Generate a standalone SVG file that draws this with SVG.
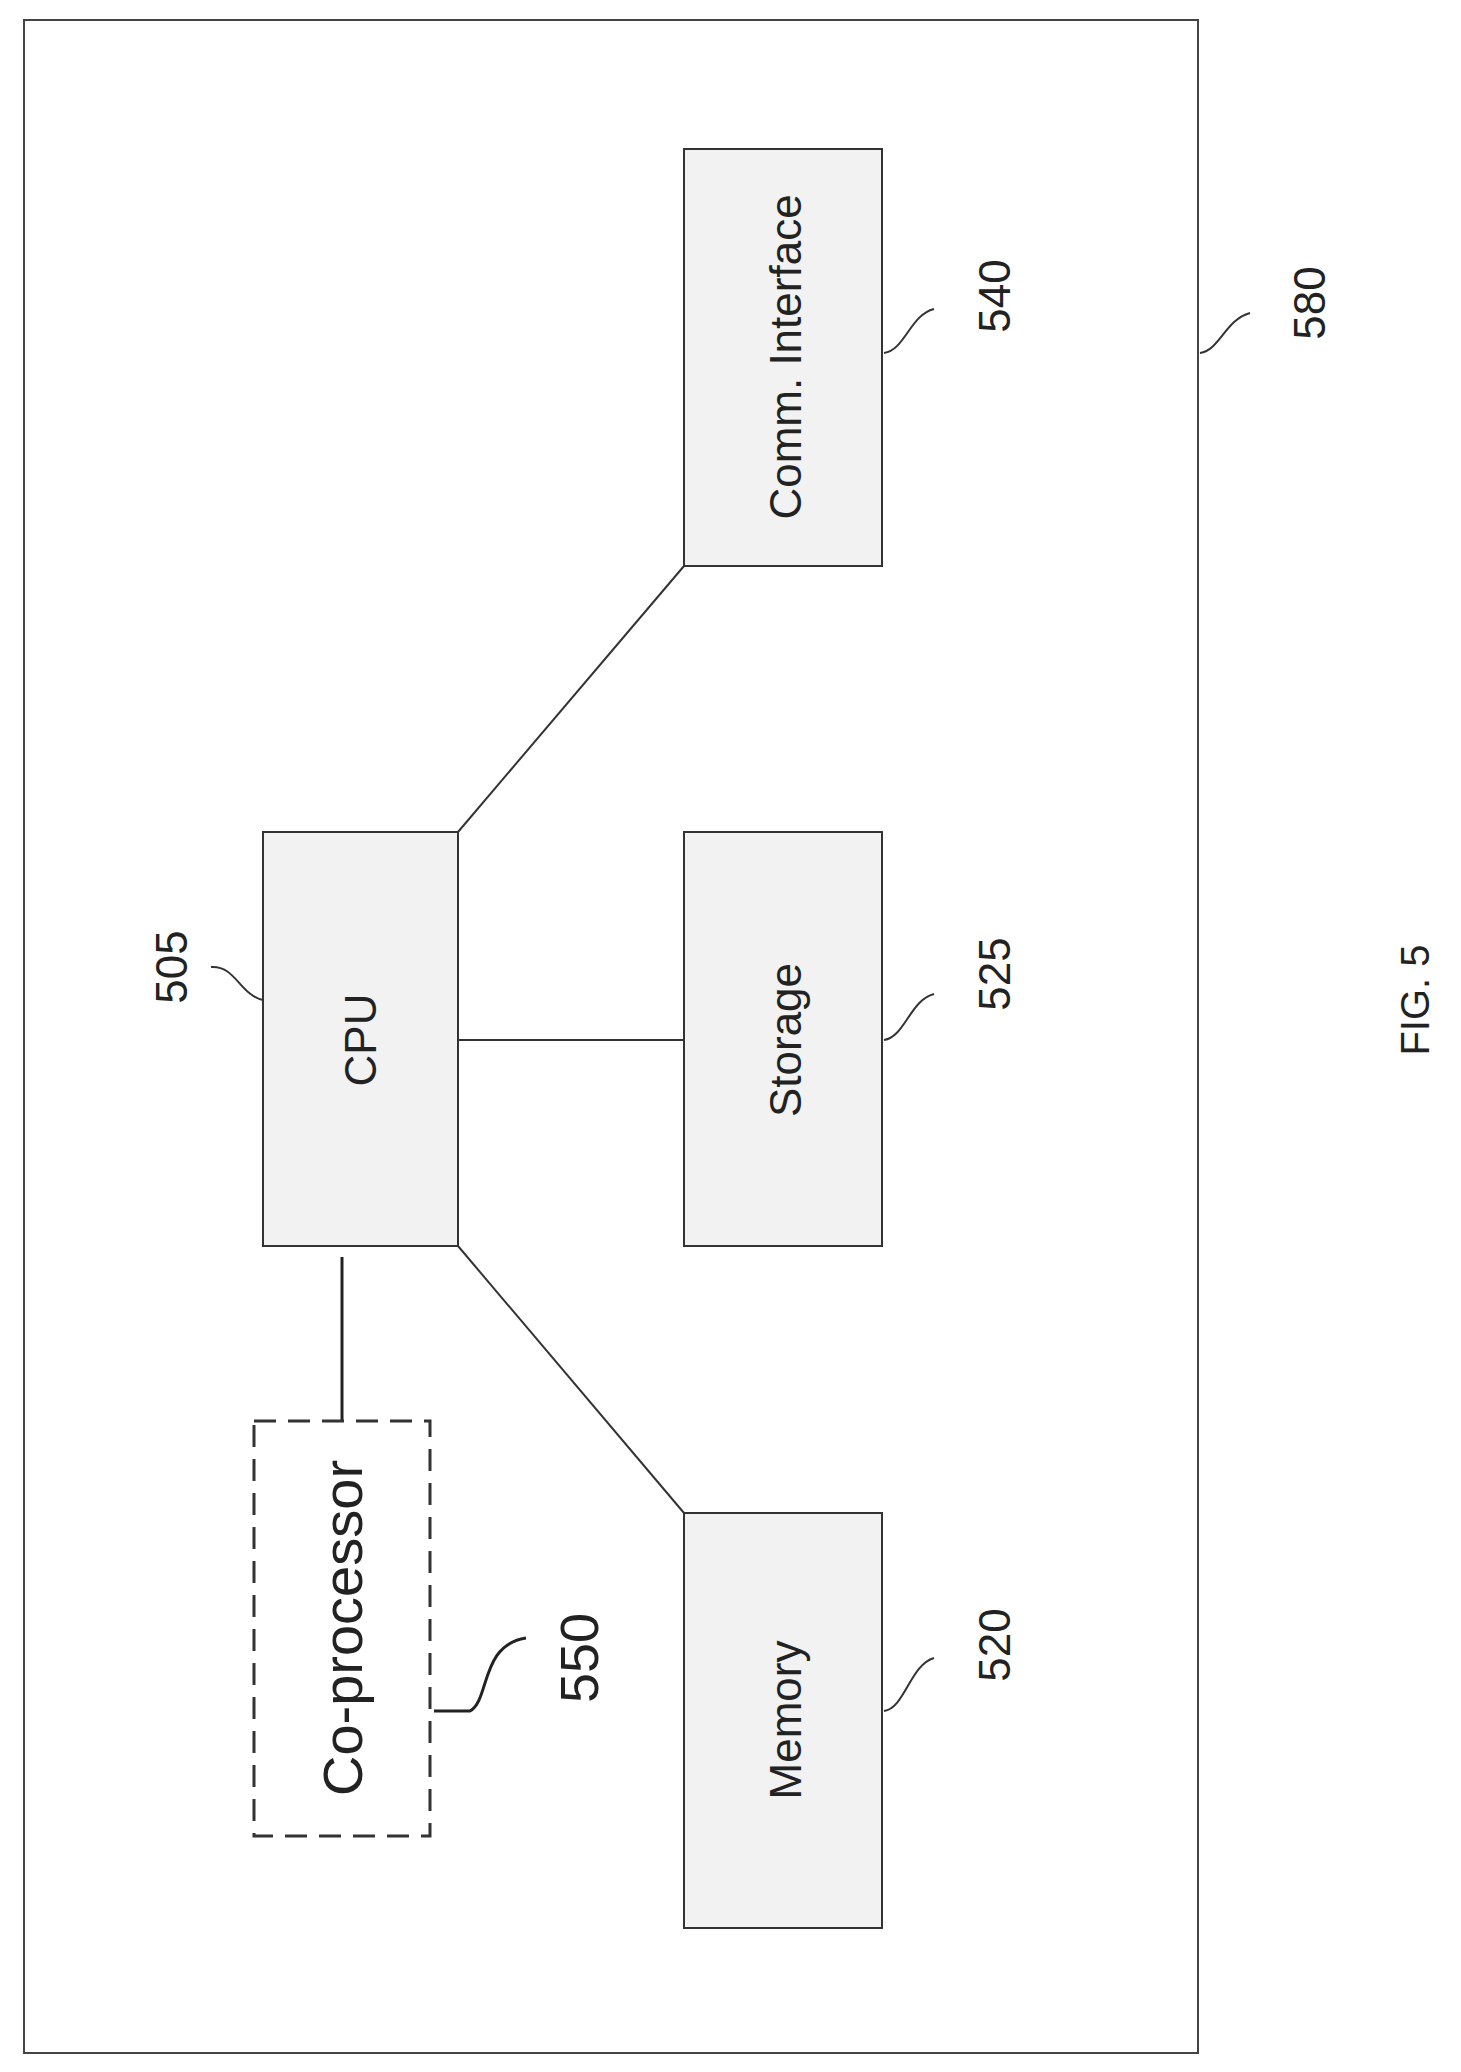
<svg xmlns="http://www.w3.org/2000/svg" width="1461" height="2072" viewBox="0 0 1461 2072">
<style>
.b{fill:#f2f2f2;stroke:#333;stroke-width:2}
.t{font-family:"Liberation Sans",Arial,sans-serif;font-size:44px;fill:#222;text-anchor:middle;dominant-baseline:central}
.n{font-family:"Liberation Sans",Arial,sans-serif;font-size:44px;fill:#222;text-anchor:middle;dominant-baseline:central}
.l{fill:none;stroke:#333;stroke-width:2}
</style>
<rect width="1461" height="2072" fill="#fff"/>
<g id="system"><rect x="24" y="20" width="1174" height="2033" fill="none" stroke="#444" stroke-width="2"/>
<path class="l" d="M1200,353 C1220,350 1225,320 1250,313"/>
<text class="n" transform="translate(1309,303) rotate(-90)">580</text></g>
<g id="connectors">
<line class="l" x1="458" y1="832" x2="684" y2="566"/>
<line class="l" x1="458" y1="1040" x2="684" y2="1040"/>
<line class="l" x1="458" y1="1246" x2="684" y2="1513"/>
<line x1="342" y1="1257" x2="342" y2="1421" stroke="#222" stroke-width="3"/>
</g>
<g id="cpu"><rect class="b" x="263" y="832" width="195" height="414"/>
<text class="t" transform="translate(360,1040) rotate(-90)">CPU</text>
<path class="l" d="M211,967 C235,965 240,995 263,1000"/>
<text class="n" transform="translate(171,967) rotate(-90)">505</text></g>
<g id="comm"><rect class="b" x="684" y="149" width="198" height="417"/>
<text class="t" transform="translate(785,357) rotate(-90)">Comm. Interface</text>
<path class="l" d="M884,353 C905,350 910,315 934,309"/>
<text class="n" transform="translate(994,296) rotate(-90)">540</text></g>
<g id="storage"><rect class="b" x="684" y="832" width="198" height="414"/>
<text class="t" transform="translate(785,1040) rotate(-90)">Storage</text>
<path class="l" d="M884,1040 C905,1037 910,1000 934,994"/>
<text class="n" transform="translate(994,974) rotate(-90)">525</text></g>
<g id="memory"><rect class="b" x="684" y="1513" width="198" height="415"/>
<text class="t" transform="translate(785,1720) rotate(-90)">Memory</text>
<path class="l" d="M884,1711 C905,1708 910,1665 934,1658"/>
<text class="n" transform="translate(994,1645) rotate(-90)">520</text></g>
<g id="coprocessor"><rect x="254" y="1421" width="176" height="415" fill="#fff" stroke="#333" stroke-width="3" stroke-dasharray="22,12"/>
<text class="t" style="font-size:56px" transform="translate(342,1628) rotate(-90)">Co-processor</text>
<path d="M434,1711 L470,1711 C490,1700 480,1645 526,1638" fill="none" stroke="#222" stroke-width="3"/>
<text class="n" style="font-size:54px" transform="translate(579,1658) rotate(-90)">550</text></g>
<text class="n" style="font-size:40px" transform="translate(1415,1000) rotate(-90)">FIG. 5</text>
</svg>
